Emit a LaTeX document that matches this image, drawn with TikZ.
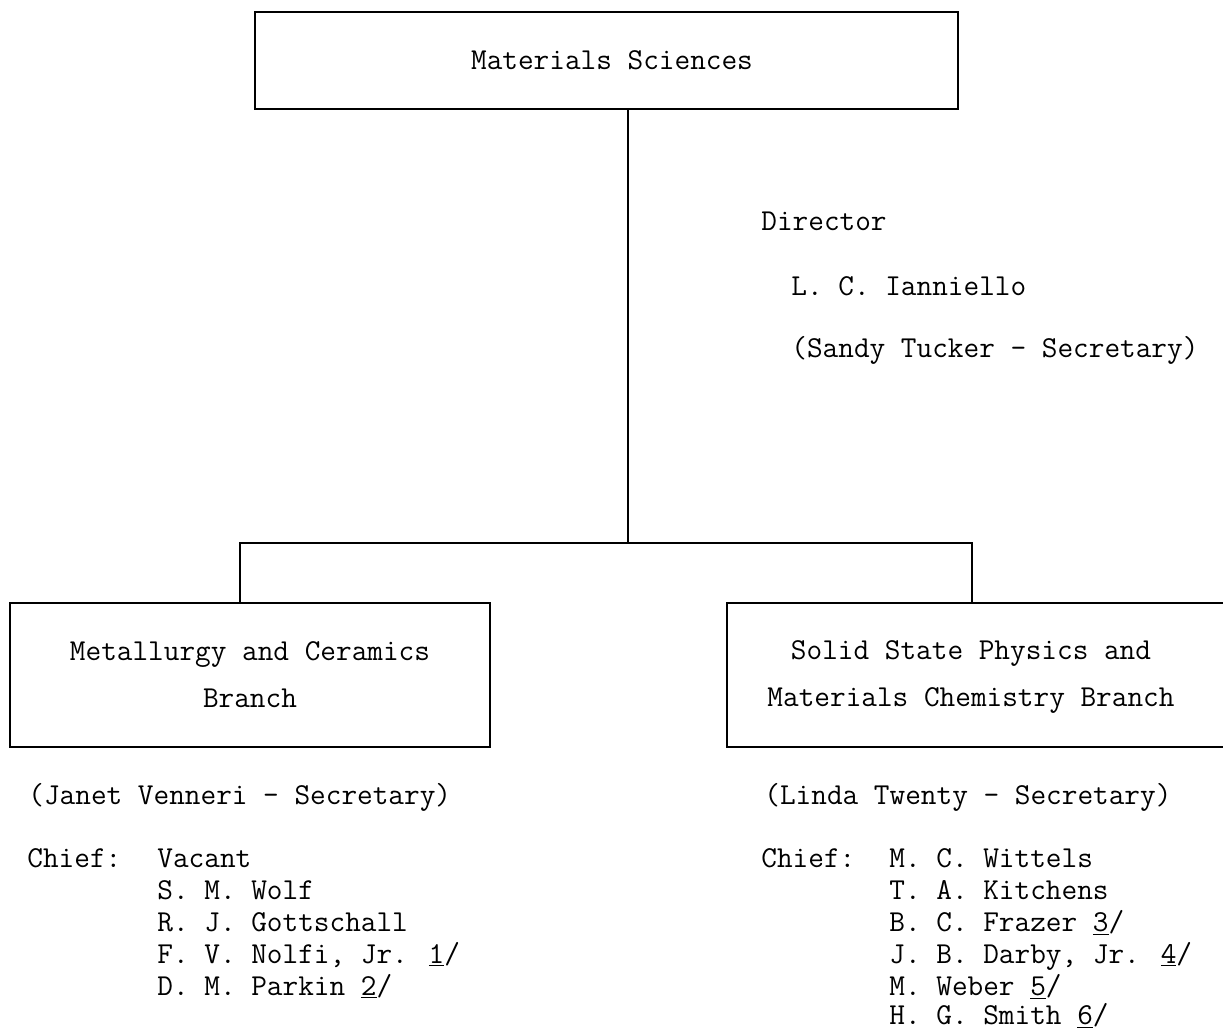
\documentclass[tikz,border=0pt]{standalone}
\usepackage{fontspec}

\newcommand{\orgfont}{\ttfamily\fontsize{15.2pt}{23.5pt}\selectfont}

\tikzset{
  orgbox/.style={draw, line width=1pt, align=center, inner sep=0pt, font=\orgfont},
  staff/.style={anchor=base west, inner sep=0pt, font=\orgfont},
  link/.style={line width=1pt}
}

\begin{document}
\begin{tikzpicture}[x=0.5pt,y=-0.5pt]

  \useasboundingbox (0,0) rectangle (1223,1033);
  \clip (0,0) rectangle (1223,1033);

  \node [orgbox, minimum width=351.5pt, minimum height=48.5pt] (top) at (606.5,60.5) {};
  \node [font=\orgfont] (toptext) at (612,60.5) {Materials Sciences};
  \node [orgbox, minimum width=240pt, minimum height=72pt] (met) at (250,675) {Metallurgy and Ceramics\\Branch};
  \node [orgbox, minimum width=256.5pt, minimum height=72pt] (ssp) at (983.5,675) {};
  \node [font=\orgfont, align=center] (ssptext) at (971,677) {Solid State Physics and\\Materials Chemistry Branch};

  \coordinate (hub) at (628,543);
  \coordinate (lleg) at (240,543);
  \coordinate (rleg) at (972,543);
  \draw [link] (top.south -| hub) -- (hub);
  \draw [link] (lleg |- met.north) -- (lleg) -- (rleg) -- (rleg |- ssp.north);

  \node [staff] (dir) at (761,230) {Director};
  \node [staff] (dirname) at (791,295) {L. C. Ianniello};
  \node [staff] (dirsec) at (791,357) {(Sandy Tucker - Secretary)};

  \node [staff] (metsec) at (28,804) {(Janet Venneri - Secretary)};
  \node [staff] (metchief) at (27,867) {Chief:};
  \node [staff] (met1) at (157,867) {Vacant};
  \node [staff] (met2) at (157,899) {S. M. Wolf};
  \node [staff] (met3) at (157,931) {R. J. Gottschall};
  \node [staff] (met4) at (157,963) {F. V. Nolfi, Jr. \underline{1}/};
  \node [staff] (met5) at (157,995) {D. M. Parkin \underline{2}/};

  \node [staff] (sspsec) at (764,804) {(Linda Twenty - Secretary)};
  \node [staff] (sspchief) at (761,867) {Chief:};
  \node [staff] (ssp1) at (889,867) {M. C. Wittels};
  \node [staff] (ssp2) at (889,899) {T. A. Kitchens};
  \node [staff] (ssp3) at (889,931) {B. C. Frazer \underline{3}/};
  \node [staff] (ssp4) at (889,963) {J. B. Darby, Jr. \underline{4}/};
  \node [staff] (ssp5) at (889,995) {M. Weber \underline{5}/};
  \node [staff] (ssp6) at (889,1024) {H. G. Smith \underline{6}/};

\end{tikzpicture}
\end{document}
